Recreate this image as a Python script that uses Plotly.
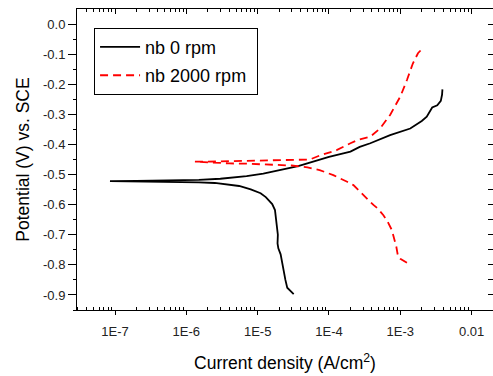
import plotly.graph_objects as go

# ---- data: current density (A/cm^2) and potential (V vs SCE) ----
nb0_current = [3.2e-5, 2.9e-5, 2.6e-5, 2.45e-5, 2.25e-5, 2.1e-5, 1.95e-5, 1.9e-5, 1.92e-5,
               1.85e-5, 1.75e-5, 1.6e-5, 1.48e-5, 1.3e-5, 1.1e-5, 8e-6, 5.5e-6, 4e-6,
               2.5e-6, 1.5e-6, 6e-7, 2e-7, 8.5e-8,
               2e-7, 6e-7, 1.5e-6, 3e-6, 5e-6, 7e-6, 1.2e-5, 2e-5, 3.7e-5, 6e-5, 1e-4,
               2e-4, 2.7e-4, 3.8e-4, 7.2e-4, 1.38e-3, 2e-3, 2.35e-3, 2.6e-3, 2.8e-3,
               3.3e-3, 3.7e-3, 3.85e-3, 3.9e-3]
nb0_potential = [-0.897, -0.888, -0.876, -0.85, -0.795, -0.765, -0.745, -0.729, -0.70,
                 -0.662, -0.618, -0.598, -0.59, -0.575, -0.562, -0.549, -0.538, -0.533,
                 -0.528, -0.526, -0.525, -0.524, -0.522,
                 -0.521, -0.520, -0.518, -0.514, -0.509, -0.505, -0.497, -0.486, -0.472,
                 -0.457, -0.441, -0.424, -0.408, -0.396, -0.369, -0.347, -0.322, -0.308,
                 -0.29, -0.277, -0.27, -0.255, -0.235, -0.217]

nb2000_current = [1.24e-3, 1.1e-3, 1.0e-3, 9.3e-4, 8.8e-4, 7.6e-4, 6.6e-4, 5.8e-4, 4.8e-4,
                  4.2e-4, 3.4e-4, 2.7e-4, 2.2e-4, 1.8e-4, 1.15e-4, 7.4e-5, 5e-5, 3e-5,
                  1.5e-5, 7e-6, 4e-6, 2e-6, 1.32e-6,
                  2e-6, 4.5e-6, 1e-5, 2.5e-5, 5.4e-5, 7.4e-5, 1.28e-4, 2e-4, 2.6e-4,
                  3.8e-4, 5.2e-4, 7.2e-4, 1e-3, 1.24e-3, 1.5e-3, 1.77e-3, 2.05e-3]
nb2000_potential = [-0.793, -0.787, -0.78, -0.772, -0.74, -0.684, -0.655, -0.635, -0.612,
                    -0.601, -0.58, -0.557, -0.535, -0.524, -0.502, -0.485, -0.476, -0.47,
                    -0.466, -0.464, -0.463, -0.46, -0.457,
                    -0.457, -0.455, -0.454, -0.452, -0.45, -0.437, -0.419, -0.396, -0.384,
                    -0.374, -0.347, -0.302, -0.241, -0.186, -0.131, -0.097, -0.081]

series_names = ["nb 0 rpm", "nb 2000 rpm"]

x_tick_values = [1e-7, 1e-6, 1e-5, 1e-4, 1e-3, 1e-2]
x_tick_labels = ["1E-7", "1E-6", "1E-5", "1E-4", "1E-3", "0.01"]
y_tick_values = [0.0, -0.1, -0.2, -0.3, -0.4, -0.5, -0.6, -0.7, -0.8, -0.9]
y_tick_labels = ["0.0", "-0.1", "-0.2", "-0.3", "-0.4", "-0.5", "-0.6", "-0.7", "-0.8", "-0.9"]

x_range_log = [-7.533, -1.70]
y_range = [-0.95, 0.05]

x_minor = [m * 10.0 ** e for e in range(-8, -1) for m in range(2, 10)]
y_minor = [round(-0.95 + 0.1 * k, 2) for k in range(10)]

FONT = "Arial, Liberation Sans, sans-serif"

fig = go.Figure()
fig.add_trace(go.Scatter(x=nb0_current, y=nb0_potential, mode="lines", name=series_names[0],
                         legendgroup="a", line=dict(color="black", width=1.8)))
fig.add_trace(go.Scatter(x=nb2000_current, y=nb2000_potential, mode="lines",
                         name=series_names[1] + "\u00a0", legendgroup="b",
                         line=dict(color="#ff0000", width=1.8, dash="8px,5px")))
# empty helper trace so the mirrored top/right axes get drawn
fig.add_trace(go.Scatter(x=[], y=[], xaxis="x2", yaxis="y2", showlegend=False, hoverinfo="skip"))

fig.update_layout(
    width=493, height=376,
    margin=dict(l=77, r=0, t=9, b=66, autoexpand=False),
    paper_bgcolor="white", plot_bgcolor="white",
    font=dict(family=FONT, color="black"),
    showlegend=True,
    legend=dict(x=0.041, y=0.938, xanchor="left", yanchor="top",
                bgcolor="white", bordercolor="black", borderwidth=1,
                font=dict(size=18, family=FONT, color="black"),
                itemwidth=40, tracegroupgap=2, traceorder="grouped"),
    xaxis=dict(type="log", range=x_range_log, showgrid=False, zeroline=False, automargin=False,
               showline=True, linecolor="black", linewidth=1,
               tickmode="array", tickvals=x_tick_values, ticktext=x_tick_labels,
               ticks="outside", ticklen=4, tickcolor="black", ticklabelstandoff=5,
               tickfont=dict(size=13, family=FONT, color="#222"),
               minor=dict(tickmode="array", tickvals=x_minor, ticks="inside", ticklen=3,
                          tickcolor="black", showgrid=False),
               title=dict(text="Current density (A/cm<sup>2</sup>)",
                          font=dict(size=17.5, family=FONT, color="black"), standoff=19)),
    yaxis=dict(range=y_range, showgrid=False, zeroline=False, automargin=False,
               showline=True, linecolor="black", linewidth=1,
               tickmode="array", tickvals=y_tick_values, ticktext=y_tick_labels,
               ticks="outside", ticklen=8, tickcolor="black",
               tickfont=dict(size=13, family=FONT, color="#222"),
               minor=dict(tickmode="array", tickvals=y_minor, ticks="outside", ticklen=3,
                          tickcolor="black", showgrid=False),
               title=dict(text="Potential (V) vs. SCE",
                          font=dict(size=17.5, family=FONT, color="black"), standoff=8)),
    xaxis2=dict(type="log", range=x_range_log, overlaying="x", side="top", anchor="y2",
                automargin=False,
                showgrid=False, zeroline=False, showline=True, linecolor="black",
                tickmode="array", tickvals=x_tick_values, showticklabels=False,
                ticks="inside", ticklen=5, tickcolor="black",
                minor=dict(tickmode="array", tickvals=x_minor, ticks="inside", ticklen=3,
                           tickcolor="black", showgrid=False)),
    yaxis2=dict(range=y_range, overlaying="y", side="right", anchor="x2", automargin=False,
                showgrid=False, zeroline=False, showline=False,
                tickmode="array", tickvals=y_tick_values, showticklabels=False,
                ticks="inside", ticklen=5, tickcolor="black",
                minor=dict(tickmode="array", tickvals=y_minor, ticks="inside", ticklen=5,
                           tickcolor="black", showgrid=False)),
)

fig.write_html("out.html", config={"displayModeBar": False},
               post_script="document.body.style.margin='0';")
